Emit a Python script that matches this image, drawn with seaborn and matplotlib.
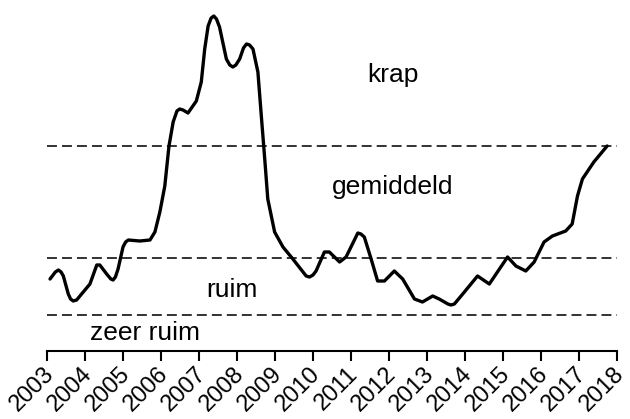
import numpy as np
import pandas as pd
import matplotlib
matplotlib.use('Agg')
import matplotlib.pyplot as plt
import matplotlib.transforms as mtransforms
import seaborn as sns

# spanning-indicator (arbitrary units)
jaren = [2003.08, 2003.22, 2003.30, 2003.37, 2003.43, 2003.56, 2003.62, 2003.69,
         2003.78, 2003.91, 2004.13, 2004.31, 2004.39, 2004.57, 2004.68, 2004.74,
         2004.80, 2004.87, 2005.00, 2005.07, 2005.14, 2005.44, 2005.71, 2005.84,
         2005.97, 2006.10, 2006.21, 2006.32, 2006.42, 2006.49, 2006.58, 2006.71,
         2006.93, 2007.06, 2007.15, 2007.24, 2007.32, 2007.39, 2007.46, 2007.54,
         2007.72, 2007.81, 2007.89, 2007.97, 2008.07, 2008.17, 2008.25, 2008.33,
         2008.42, 2008.55, 2008.64, 2008.73, 2008.81, 2008.99, 2009.21, 2009.47,
         2009.82, 2009.91, 2010.00, 2010.08, 2010.30, 2010.43, 2010.70, 2010.87,
         2011.18, 2011.26, 2011.35, 2011.53, 2011.70, 2011.88, 2012.14, 2012.36,
         2012.67, 2012.88, 2013.15, 2013.32, 2013.55, 2013.63, 2013.72, 2013.94,
         2014.33, 2014.64, 2015.12, 2015.34, 2015.60, 2015.82, 2016.08, 2016.30,
         2016.65, 2016.82, 2016.96, 2017.09, 2017.39, 2017.74]
waarden = [72, 79, 81, 79, 75, 57, 52, 50,
           51, 57, 67, 86, 86, 77, 72, 71,
           74, 82, 104, 109, 111, 110, 111, 119,
           139, 165, 205, 229, 240, 242, 241, 238,
           250, 269, 302, 325, 333, 335, 332, 324,
           292, 286, 284, 286, 292, 303, 307, 306,
           302, 279, 235, 192, 152, 119, 104, 92,
           75, 74, 76, 80, 99, 99, 89, 94,
           118, 117, 114, 92, 70, 70, 80, 72,
           52, 49, 55, 52, 47, 46, 47, 57,
           75, 67, 94, 85, 80, 89, 109, 115,
           120, 127, 155, 172, 189, 205]

grenzen = [205, 93, 36]
labels = ['krap', 'gemiddeld', 'ruim', 'zeer ruim']
label_x = [2012.1, 2012.1, 2007.86, 2005.57]
label_y = [276, 164, 61, 18]
jaar_ticks = list(range(2003, 2019))

df = pd.DataFrame({'jaar': jaren, 'waarde': waarden})

sns.set_style('white')
plt.rcParams['font.family'] = ['Liberation Sans', 'DejaVu Sans']

fig = plt.figure(figsize=(6.3, 4.19), dpi=100)
ax = fig.add_axes([47 / 630, 1 - 351 / 419, 570 / 630, 351 / 419])

for g in grenzen:
    ax.axhline(g, color='#222222', lw=1.3, ls=(0, (5.5, 2.8)))

sns.lineplot(data=df, x='jaar', y='waarde', ax=ax, color='black', lw=2.4,
             solid_joinstyle='round', solid_capstyle='round')

for t, lx, ly in zip(labels, label_x, label_y):
    ax.text(lx, ly, t, fontsize=19, ha='center', va='center', color='black')

ax.set_xlim(2003, 2018)
ax.set_ylim(0, 351)
ax.set_yticks([])
ax.set_xlabel('')
ax.set_ylabel('')
for s in ['left', 'right', 'top']:
    ax.spines[s].set_visible(False)
ax.spines['bottom'].set_linewidth(1.5)
ax.spines['bottom'].set_color('black')
ax.tick_params(axis='x', direction='out', length=7, width=1.5, color='black', bottom=True, pad=1)

ax.set_xticks(jaar_ticks)
ax.set_xticklabels([str(j) for j in jaar_ticks], rotation=45, ha='right',
                   va='baseline', rotation_mode='anchor', fontsize=17, color='black')
# schuif de jaartallen iets naar rechts-onder, zoals in het origineel
offset = mtransforms.ScaledTranslation(0.08, -0.13, fig.dpi_scale_trans)
for lab in ax.get_xticklabels():
    lab.set_transform(lab.get_transform() + offset)

fig.savefig('out.png', dpi=100)
